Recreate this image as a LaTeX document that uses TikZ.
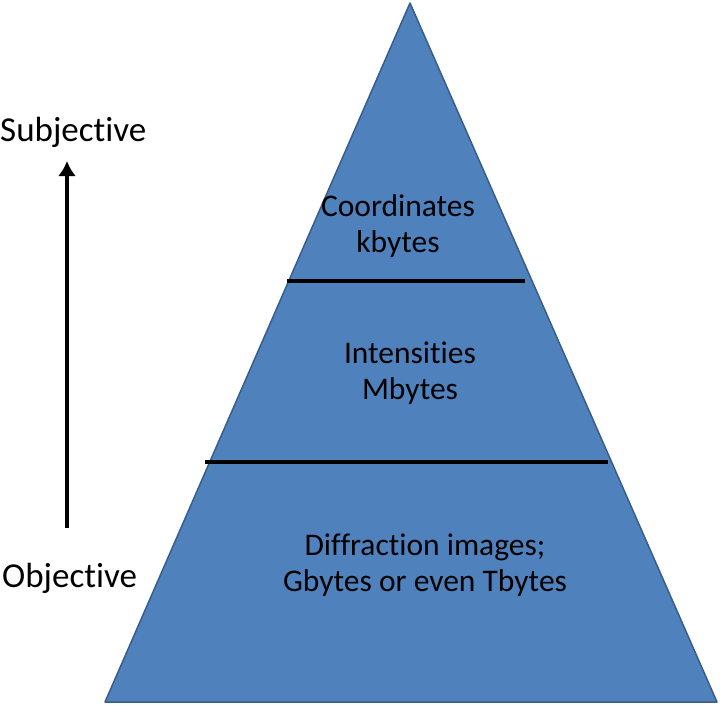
\documentclass[tikz,border=0pt]{standalone}
\usepackage{fontspec}
\setmainfont[Ligatures=NoCommon]{Carlito}
\usetikzlibrary{arrows.meta}
\definecolor{pyrfill}{HTML}{4F81BD}
\definecolor{pyrdraw}{HTML}{385D8A}

\begin{document}
\begin{tikzpicture}[x=1pt,y=-1pt,
  pyramid/.style={draw=pyrdraw,fill=pyrfill,line width=1.5pt,line join=round},
  divider/.style={black,line width=3.5pt},
  layertext/.style={align=center,font=\fontsize{31.5}{35.5}\selectfont,inner sep=0pt},
  sidetext/.style={font=\fontsize{35}{40}\selectfont,inner sep=0pt}
]
\useasboundingbox (0,0) rectangle (720,705);

\coordinate (apex) at (410,3);
\coordinate (baseleft) at (105,702);
\coordinate (baseright) at (717,702);
\draw[pyramid] (baseleft) -- (apex) -- (baseright) -- cycle;

\coordinate (topl) at (287,281);
\coordinate (topr) at (525,281);
\coordinate (midl) at (205,462);
\coordinate (midr) at (608,462);
\draw[divider] (topl) -- (topr);
\draw[divider] (midl) -- (midr);

\node[layertext] (coords) at (398,226) {Coordinates\\kbytes};
\node[layertext] (intens) at (410,373) {Intensities\\Mbytes};
\node[layertext] (diffr) at (425,565) {Diffraction images;\\Gbytes or even Tbytes};

\node[sidetext,anchor=west] (subj) at (0,132) {Subjective};
\node[sidetext,anchor=west] (obj) at (2,578) {Objective};
\coordinate (arrowtail) at (67,528);
\coordinate (arrowhead) at (67,161);
\draw[line width=3.5pt,-{Latex[length=15pt,width=18pt]}] (arrowtail) -- (arrowhead);
\end{tikzpicture}
\end{document}
